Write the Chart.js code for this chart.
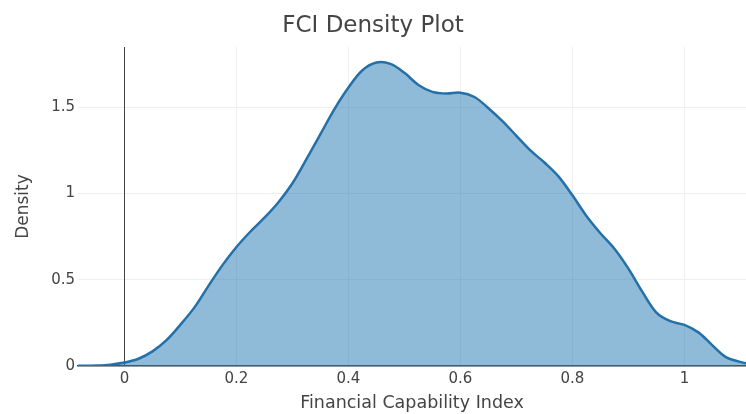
<!DOCTYPE html>
<html>
<head>
<meta charset="utf-8">
<title>FCI Density Plot</title>
<script src="https://cdn.jsdelivr.net/npm/chart.js"></script>
<style>
  body { margin: 0; background: #fff; }
  #wrap { width: 746px; height: 414px; }
</style>
</head>
<body>
<div id="wrap"><canvas id="fci-chart" width="746" height="414"></canvas></div>
<script>
// values
const fciValues = [-0.083, -0.05, -0.025, 0, 0.025, 0.05, 0.075, 0.1, 0.125, 0.15, 0.175, 0.2,
  0.225, 0.25, 0.275, 0.3, 0.325, 0.35, 0.375, 0.4, 0.425, 0.45, 0.475, 0.5, 0.525, 0.55,
  0.575, 0.6, 0.625, 0.65, 0.675, 0.7, 0.725, 0.75, 0.775, 0.8, 0.825, 0.85, 0.875, 0.9,
  0.925, 0.95, 0.975, 1.0, 1.025, 1.05, 1.075, 1.11];
const densityValues = [0.001, 0.003, 0.008, 0.02, 0.042, 0.085, 0.15, 0.24, 0.34, 0.465, 0.585, 0.69,
  0.78, 0.86, 0.95, 1.06, 1.2, 1.345, 1.49, 1.615, 1.715, 1.76, 1.752, 1.7, 1.63, 1.59,
  1.58, 1.585, 1.56, 1.495, 1.42, 1.335, 1.25, 1.18, 1.1, 0.99, 0.87, 0.77, 0.68, 0.565,
  0.43, 0.31, 0.26, 0.238, 0.195, 0.12, 0.05, 0.015];
const xTicks = [0, 0.2, 0.4, 0.6, 0.8, 1];
const yTicks = [0, 0.5, 1, 1.5];

const FONT = "'DejaVu Sans', Verdana, sans-serif";
const ctx = document.getElementById('fci-chart');

const points = fciValues.map((v, i) => ({ x: v, y: densityValues[i] }));

const fciChart = new Chart(ctx, {
  type: 'line',
  data: {
    datasets: [{
      label: 'FCI',
      data: points,
      borderColor: '#2470a8',
      borderWidth: 2.5,
      backgroundColor: 'rgba(31,119,180,0.5)',
      fill: 'origin',
      pointRadius: 0,
      tension: 0.35
    }]
  },
  options: {
    responsive: false,
    animation: false,
    layout: { padding: 0 },
    plugins: {
      legend: { display: false },
      tooltip: { enabled: false },
      title: {
        display: true,
        text: 'FCI Density Plot',
        color: '#444',
        font: { family: FONT, size: 23, weight: 'normal' },
        padding: { top: 12, bottom: 7.4 }
      }
    },
    scales: {
      x: {
        type: 'linear',
        min: -0.083,
        max: 1.11,
        afterBuildTicks: s => { s.ticks = xTicks.map(v => ({ value: v })); },
        afterFit: s => { s.height = 48; },
        // zero line at x = 0 is darker, like the plotly zeroline
        grid: { color: c => (c.tick && c.tick.value === 0 ? '#444' : '#eeeeee'), drawTicks: false, z: -1 },
        border: { display: true, color: '#444', width: 1.5 },
        ticks: {
          color: '#444',
          padding: 4,
          font: { family: FONT, size: 15 },
          callback: v => String(v)
        },
        title: {
          display: true,
          text: 'Financial Capability Index',
          color: '#444',
          font: { family: FONT, size: 17.5 },
          padding: { top: 0, bottom: 0 }
        }
      },
      y: {
        min: 0,
        max: 1.85,
        afterBuildTicks: s => { s.ticks = yTicks.map(v => ({ value: v })); },
        afterFit: s => { s.width = 78; },
        // drawn first so the x zero line stays unbroken
        grid: { color: '#eeeeee', drawTicks: false, z: -2 },
        border: { display: false },
        ticks: {
          color: '#444',
          padding: 3,
          font: { family: FONT, size: 15 },
          callback: v => String(v)
        },
        title: {
          display: true,
          text: 'Density',
          color: '#444',
          font: { family: FONT, size: 17 },
          padding: { top: 13, bottom: 0 }
        }
      }
    }
  }
});
</script>
</body>
</html>
